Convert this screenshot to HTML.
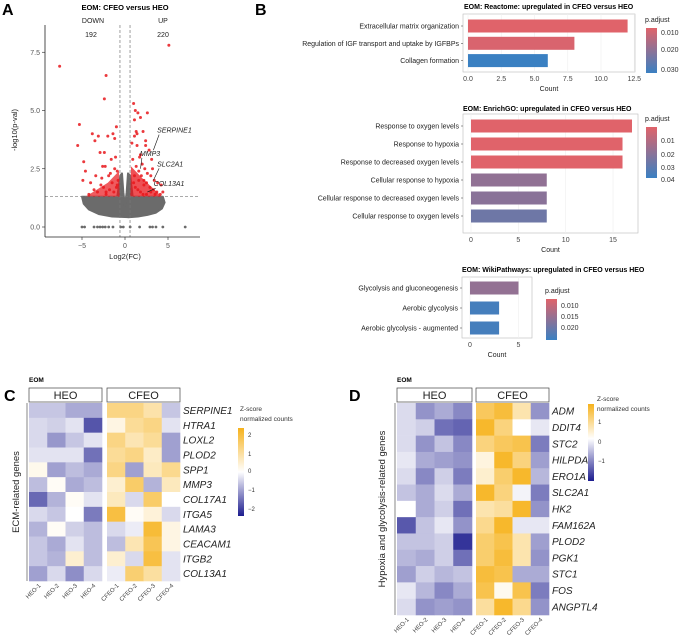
<!DOCTYPE html>
<html><head><meta charset="utf-8">
<style>
html,body{margin:0;padding:0;background:#fff;}
svg{display:block;font-family:"Liberation Sans",Arial,sans-serif;}
</style></head>
<body>
<svg id="fig" width="681" height="636" viewBox="0 0 681 636" xmlns="http://www.w3.org/2000/svg">
<defs>
<linearGradient id="gR" x1="0" y1="0" x2="0" y2="1"><stop offset="0" stop-color="#e0636a"/><stop offset="1" stop-color="#3a80c2"/></linearGradient>
<linearGradient id="gZC" x1="0" y1="0" x2="0" y2="1"><stop offset="0" stop-color="#f6b21c"/><stop offset="0.5" stop-color="#ffffff"/><stop offset="1" stop-color="#1c1c8e"/></linearGradient>
<linearGradient id="gZD" x1="0" y1="0" x2="0" y2="1"><stop offset="0" stop-color="#f6b21c"/><stop offset="0.45" stop-color="#ffffff"/><stop offset="1" stop-color="#1c1c8e"/></linearGradient>
</defs>
<g id="A"></g>
<g id="B"></g>
<g id="C"></g>
<g id="D"></g>
</svg>
<script>
// ---------- DATA ----------
const volcanoRedFC=[-7.6,-5.3,-5.5,-4.8,-4.6,-4.9,-3.8,-3.5,-3.1,-2.9,-2.6,-2.4,-2.2,-2.0,-1.9,-1.6,-1.4,-1.2,-1.1,-0.9,-0.8,-3.6,-3.2,-2.8,-2.5,-2.2,-1.8,-1.5,-1.3,-1.0,-4.2,-4.0,-3.4,-2.7,-2.3,-1.7,-1.2,-0.9,-2.2,-2.4,-1.0,1.0,1.2,1.5,1.8,2.1,2.4,2.8,3.1,1.1,1.4,1.7,2.0,2.3,2.6,3.0,3.4,3.8,4.2,0.9,1.3,1.6,1.9,2.2,2.5,2.9,3.3,3.7,4.1,4.4,1.0,1.2,1.5,1.8,2.1,2.5,3.0,3.5,1.1,1.6,2.2,5.1,1.3,1.8,2.4,0.8,1.1,1.4,2.6,3.2];
const volcanoRedP=[6.9,4.4,3.5,2.8,2.4,2.0,4.0,3.7,3.9,3.2,2.6,5.5,6.5,3.9,2.2,2.9,4.0,3.8,3.0,2.4,2.0,1.6,1.5,1.8,1.7,1.5,1.6,1.9,1.5,1.7,1.4,1.9,2.2,2.1,2.6,2.3,2.5,1.8,1.4,3.2,4.3,5.3,5.0,4.9,4.7,4.1,3.7,3.3,2.9,3.9,3.5,3.0,2.7,2.5,2.3,2.2,2.0,1.9,1.8,2.9,2.6,2.4,2.2,2.0,1.9,1.7,1.6,1.5,1.4,1.5,1.9,1.7,1.6,1.5,1.4,1.4,1.5,1.4,2.2,2.0,1.8,7.8,4.1,3.1,3.5,3.6,4.6,4.0,4.9,2.5];
const volcanoZeroFC=[-5.0,-4.7,-3.6,-3.2,-2.9,-2.6,-2.3,-1.9,-1.4,-0.5,1.7,2.9,3.2,3.6,4.4,7.0,-0.2,0.6];
const grayCloudFC=[-5.0,-4.6,-3.6,-2.6,-1.6,-0.9,-0.55,-0.35,-0.2,0,0.2,0.35,0.6,0.9,1.8,2.8,3.6,4.4,4.6,4.3,3.6,2.6,1.5,0.4,-1.5,-3.0,-4.2,-4.8];
const grayCloudP=[1.3,1.3,1.3,1.3,1.3,1.3,2.2,2.3,1.5,0.9,1.5,2.3,2.2,1.3,1.3,1.3,1.3,1.3,1.05,0.8,0.62,0.52,0.45,0.42,0.45,0.55,0.75,1.0];
const volcanoXTicks=[-5,0,5];
const volcanoYTicks=[0,2.5,5,7.5];
const volcanoYTickLabels=["0.0","2.5","5.0","7.5"];
const geneLabels=["SERPINE1","MMP3","SLC2A1","COL13A1"];
const geneLabelFC=[3.3,1.8,3.3,2.6];
const geneLabelP=[3.3,2.5,2.0,1.5];
const geneLabelTx=[4.2,2.2,4.2,3.8];
const geneLabelTy=[4.05,3.05,2.6,1.75];

const reactTerms=["Extracellular matrix organization","Regulation of IGF transport and uptake by IGFBPs","Collagen formation"];
const reactCounts=[12,8,6];
const reactP=[0.008,0.009,0.031];
const reactTicks=[0,2.5,5,7.5,10,12.5];
const reactTickLabels=["0.0","2.5","5.0","7.5","10.0","12.5"];
const goTerms=["Response to oxygen levels","Response to hypoxia","Response to decreased oxygen levels","Cellular response to hypoxia","Cellular response to decreased oxygen levels","Cellular response to oxygen levels"];
const goCounts=[17,16,16,8,8,8];
const goP=[0.004,0.004,0.004,0.022,0.024,0.030];
const goTicks=[0,5,10,15];
const wikiTerms=["Glycolysis and gluconeogenesis","Aerobic glycolysis","Aerobic glycolysis - augmented"];
const wikiCounts=[5,3,3];
const wikiP=[0.015,0.022,0.022];
const wikiTicks=[0,5];

const sampleLabels=["HEO-1","HEO-2","HEO-3","HEO-4","CFEO-1","CFEO-2","CFEO-3","CFEO-4"];
const ecmGenes=["SERPINE1","HTRA1","LOXL2","PLOD2","SPP1","MMP3","COL17A1","ITGA5","LAMA3","CEACAM1","ITGB2","COL13A1"];
const ecmZ=[
[-0.6,-0.6,-0.9,-0.9,1.3,1.3,0.9,-0.6],
[-0.4,-0.5,-0.3,-1.8,0.3,1.1,1.3,-0.3],
[-0.4,-1.1,-0.6,-0.3,1.3,0.8,1.1,-1.0],
[-0.3,-0.3,-0.3,-1.5,1.1,1.3,0.6,-1.0],
[0.2,-1.0,-0.7,-0.9,1.3,-1.0,0.7,1.2],
[-0.7,0.1,-0.9,-0.7,0.5,1.6,-0.8,0.7],
[-1.6,-0.8,0.1,-0.3,0.7,-0.4,1.6,0.0],
[-0.4,-0.6,0.0,-1.4,2.0,0.1,0.4,-0.4],
[-0.8,0.1,-0.5,-0.7,-0.4,-0.2,2.1,0.3],
[-0.6,-0.9,-0.3,-0.7,-0.7,0.8,1.8,0.3],
[-0.6,-0.8,0.5,-0.7,0.5,-0.4,2.0,-0.3],
[-1.0,-0.4,-1.2,-0.4,-0.2,1.5,1.0,-0.3]];
const hypGenes=["ADM","DDIT4","STC2","HILPDA","ERO1A","SLC2A1","HK2","FAM162A","PLOD2","PGK1","STC1","FOS","ANGPTL4"];
const hypZ=[
[-0.3,-0.9,-0.7,-1.0,1.0,1.2,0.5,-0.9],
[-0.3,-0.4,-1.2,-1.3,1.3,0.8,0.0,-0.2],
[-0.3,-0.9,-0.5,-1.0,0.8,1.0,1.1,-1.1],
[-0.2,-0.7,-0.8,-0.9,0.2,1.3,0.8,-0.8],
[-0.3,-1.0,-0.4,-1.1,0.3,0.9,1.3,-0.6],
[-0.5,-0.7,-0.3,-0.7,1.3,0.8,-0.1,-1.1],
[0.0,-0.7,-0.4,-1.2,0.5,0.6,1.3,-0.9],
[-1.4,-0.5,-0.2,-0.9,0.7,1.3,-0.2,-0.2],
[-0.5,-0.5,-0.4,-1.7,0.9,1.1,0.5,-0.8],
[-0.6,-0.7,-0.4,-1.2,0.9,1.2,0.5,-0.9],
[-0.8,-0.4,-0.6,-0.5,1.2,1.1,-0.7,-0.7],
[-0.2,-0.6,-1.0,-0.7,1.1,0.1,1.1,-1.1],
[-0.3,-0.9,-0.8,-0.9,0.6,1.3,0.7,-0.9]];

// ---------- HELPERS ----------
const NS="http://www.w3.org/2000/svg";
function mk(parent,tag,attrs,text){const e=document.createElementNS(NS,tag);for(const k in attrs)e.setAttribute(k,attrs[k]);if(text!==undefined)e.textContent=text;parent.appendChild(e);return e;}
function T(parent,x,y,s,size,opt){opt=opt||{};const e=mk(parent,"text",{x:x,y:y,"font-size":size,fill:opt.fill||"#222","text-anchor":opt.anchor||"start"},s);if(opt.bold)e.setAttribute("font-weight","bold");if(opt.italic)e.setAttribute("font-style","italic");if(opt.rot)e.setAttribute("transform","rotate("+opt.rot+" "+x+" "+y+")");return e;}

// ---------- PANEL A ----------
(function(){
const g=document.getElementById("A");
const xs=v=>125+v*8.6, ys=v=>227-v*23.3;
let t=T(g,2,15,"A",16,{bold:true,fill:"#000"});


t=T(g,125,10,"EOM: CFEO versus HEO",7.5,{bold:true,anchor:"middle",fill:"#000"});


T(g,93,23,"DOWN",7,{anchor:"middle"});T(g,91,37,"192",7,{anchor:"middle"});
T(g,163,23,"UP",7,{anchor:"middle"});T(g,163,37,"220",7,{anchor:"middle"});
let d="";grayCloudFC.forEach((v,i)=>{d+=(i?"L":"M")+xs(v).toFixed(1)+","+ys(grayCloudP[i]).toFixed(1);});
let p=mk(g,"path",{d:d+"Z",fill:"#6b6b6b","stroke":"#6b6b6b","stroke-width":2,"stroke-linejoin":"round"});


volcanoZeroFC.forEach(v=>{mk(g,"circle",{cx:xs(v),cy:ys(0),r:1.4,fill:"#6b6b6b"});});
mk(g,"path",{d:`M${xs(0.6)},${ys(1.3)}L${xs(0.7)},${ys(2.6)}L${xs(2)},${ys(2.1)}L${xs(4.3)},${ys(1.3)}Z`,fill:"#e8161b","fill-opacity":0.75});
mk(g,"path",{d:`M${xs(-0.6)},${ys(1.3)}L${xs(-0.7)},${ys(2.4)}L${xs(-2)},${ys(1.9)}L${xs(-4.6)},${ys(1.3)}Z`,fill:"#e8161b","fill-opacity":0.7});
volcanoRedFC.forEach((v,i)=>{const c=mk(g,"circle",{cx:xs(v),cy:ys(volcanoRedP[i]),r:1.5,fill:"#e8161b","fill-opacity":0.85});

});
mk(g,"line",{x1:45,x2:200,y1:ys(1.3),y2:ys(1.3),stroke:"#777","stroke-dasharray":"3,2","stroke-width":0.7});
[-0.585,0.585].forEach(v=>mk(g,"line",{x1:xs(v),x2:xs(v),y1:25,y2:237,stroke:"#777","stroke-dasharray":"3,2","stroke-width":0.7}));
geneLabels.forEach((s,i)=>{mk(g,"line",{x1:xs(geneLabelFC[i]),y1:ys(geneLabelP[i]),x2:xs(geneLabelTx[i])-2,y2:ys(geneLabelTy[i])+2,stroke:"#111","stroke-width":0.6});
const e=T(g,xs(geneLabelTx[i])-4,ys(geneLabelTy[i]),s,7,{italic:true});

});
mk(g,"line",{x1:45,x2:45,y1:25,y2:237,stroke:"#222","stroke-width":0.8});
mk(g,"line",{x1:45,x2:200,y1:237,y2:237,stroke:"#222","stroke-width":0.8});
volcanoXTicks.forEach(v=>{mk(g,"line",{x1:xs(v),x2:xs(v),y1:237,y2:240,stroke:"#222","stroke-width":0.6});T(g,xs(v),248,v<0?"−"+(-v):String(v),7,{anchor:"middle",fill:"#555"});});
volcanoYTicks.forEach((v,i)=>{mk(g,"line",{x1:42,x2:45,y1:ys(v),y2:ys(v),stroke:"#222","stroke-width":0.6});T(g,40,ys(v)+2.5,volcanoYTickLabels[i],7,{anchor:"end",fill:"#555"});});
t=T(g,125,259,"Log2(FC)",7.5,{anchor:"middle"});


t=T(g,17,130,"-log10(p-val)",7.5,{anchor:"middle",rot:-90});


})();

// ---------- PANEL B ----------
function pcol(p,lo,hi){let f=(p-lo)/(hi-lo);f=Math.max(0,Math.min(1,f));const a=[224,99,106],b=[58,128,194];return "rgb("+a.map((v,i)=>Math.round(v+(b[i]-v)*f)).join(",")+")";}
function barChart(g,o){
  mk(g,"rect",{x:o.fx0,y:o.fy0,width:o.fx1-o.fx0,height:o.fy1-o.fy0,fill:"#fff",stroke:"#bbb","stroke-width":0.6});
  const xs=v=>o.x0+v*o.k;
  o.ticks.forEach(v=>{mk(g,"line",{x1:xs(v),x2:xs(v),y1:o.fy0,y2:o.fy1,stroke:"#eee","stroke-width":0.6});});
  o.terms.forEach((s,i)=>{const y=o.y0+i*o.dy;
    const r=mk(g,"rect",{x:xs(0),y:y-o.bh/2,width:o.counts[i]*o.k,height:o.bh,fill:pcol(o.p[i],o.lo,o.hi)});
    
    
    T(g,o.fx0-4,y+2.5,s,7,{anchor:"end"});
    mk(g,"line",{x1:o.fx0-2,x2:o.fx0,y1:y,y2:y,stroke:"#333","stroke-width":0.5});});
  o.ticks.forEach((v,i)=>{T(g,xs(v),o.fy1+9,o.tl?o.tl[i]:String(v),7,{anchor:"middle",fill:"#444"});});
  T(g,(o.fx0+o.fx1)/2,o.fy1+19,"Count",7,{anchor:"middle"});
  const t=T(g,o.tx,o.ty,o.title,7,{bold:true,fill:"#000"});
  
  
  T(g,o.lx,o.ly,"p.adjust",7);
  mk(g,"rect",{x:o.lx+1,y:o.ly+6,width:11,height:o.lh,fill:"url(#gR)"});
  o.leg.forEach((s,i)=>T(g,o.lx+16,o.legY[i],s,7,{fill:"#333"}));
}
(function(){
const g=document.getElementById("B");
let t=T(g,255,15,"B",16,{bold:true,fill:"#000"});


barChart(g,{fx0:463,fx1:635,fy0:14,fy1:72,x0:468,k:13.3,y0:26,dy:17.3,bh:13,terms:reactTerms,counts:reactCounts,p:reactP,lo:0.008,hi:0.031,ticks:reactTicks,tl:reactTickLabels,title:"EOM: Reactome: upregulated in CFEO versus HEO",tx:464,ty:9,lx:645,ly:22,lh:45,leg:["0.010","0.020","0.030"],legY:[35,52,72]});
barChart(g,{fx0:463,fx1:638,fy0:114,fy1:233,x0:471,k:9.47,y0:126,dy:18,bh:13,terms:goTerms,counts:goCounts,p:goP,lo:0.004,hi:0.042,ticks:goTicks,title:"EOM: EnrichGO: upregulated in CFEO versus HEO",tx:463,ty:111,lx:645,ly:121,lh:51,leg:["0.01","0.02","0.03","0.04"],legY:[143,157,170,182]});
barChart(g,{fx0:462,fx1:532,fy0:277,fy1:338,x0:470,k:9.7,y0:288,dy:20,bh:13,terms:wikiTerms,counts:wikiCounts,p:wikiP,lo:0.008,hi:0.023,ticks:wikiTicks,title:"EOM: WikiPathways: upregulated in CFEO versus HEO",tx:462,ty:272,lx:545,ly:293,lh:41,leg:["0.010","0.015","0.020"],legY:[308,319,330]});
})();

// ---------- HEATMAPS ----------
function zcol(z,neg,pos){const o=[246,178,28],w=[255,255,255],n=[28,28,142];let f,a,b;if(z>=0){f=Math.min(1,z/pos);a=w;b=o;}else{f=Math.min(1,-z/neg);a=w;b=n;}return "rgb("+a.map((v,i)=>Math.round(v+(b[i]-v)*f)).join(",")+")";}
function heat(g,o){
  T(g,o.lab[0],o.lab[1],o.label,16,{bold:true,fill:"#000"});
  T(g,o.hx0,382,"EOM",6.5,{bold:true,fill:"#000"});
  [["HEO",o.hx0,o.hx1],["CFEO",o.cx0,o.cx1]].forEach(s=>{const r=mk(g,"rect",{x:s[1],y:388,width:s[2]-s[1],height:14,fill:"#fff",stroke:"#444","stroke-width":0.7});
    
    
    T(g,(s[1]+s[2])/2,399,s[0],11,{anchor:"middle"});});
  const n=o.genes.length,rh=(o.y1-o.y0)/n;
  o.z.forEach((row,i)=>row.forEach((v,j)=>{const x0=j<4?o.hx0+j*(o.hx1-o.hx0)/4:o.cx0+(j-4)*(o.cx1-o.cx0)/4;const w=j<4?(o.hx1-o.hx0)/4:(o.cx1-o.cx0)/4;
    const c=mk(g,"rect",{x:x0,y:o.y0+i*rh,width:w+0.3,height:rh+0.3,fill:zcol(v,o.neg,o.pos)});
    
    }));
  o.genes.forEach((s,i)=>{const e=T(g,o.cx1+3,o.y0+(i+0.5)*rh+3.5,s,10,{italic:true});
    
    });
  sampleLabels.forEach((s,j)=>{const x=(j<4?o.hx0+(j+0.5)*(o.hx1-o.hx0)/4:o.cx0+(j-3.5)*(o.cx1-o.cx0)/4)+3;T(g,x,o.y1+5,s,6,{anchor:"end",rot:-45,fill:"#444"});});
  mk(g,"line",{x1:o.hx0-2,x2:o.hx0-2,y1:o.y0,y2:o.y1,stroke:"#555","stroke-width":0.7});
  const yl=T(g,o.ylx,(o.y0+o.y1)/2,o.ylab,9.5,{anchor:"middle",rot:-90});
  
  
  T(g,o.lgx+o.tdx,o.lgy,"Z-score",6.5,{fill:"#333"});T(g,o.lgx+o.tdx,o.lgy+10,"normalized counts",6.5,{fill:"#333"});
  mk(g,"rect",{x:o.lgx,y:o.cb0,width:6,height:o.cb1-o.cb0,fill:o.grad});
  o.ct.forEach((s,i)=>T(g,o.lgx+10,o.ctY[i],s,6,{fill:"#333"}));
}
heat(document.getElementById("C"),{label:"C",lab:[4,401],hx0:29,hx1:102,cx0:107,cx1:180,y0:403,y1:581,genes:ecmGenes,z:ecmZ,neg:2.4,pos:2.4,ylab:"ECM-related genes",ylx:19,lgx:238,tdx:2,lgy:411,cb0:428,cb1:516,grad:"url(#gZC)",ct:["2","1","0","−1","−2"],ctY:[437,456,473,492,511]});
heat(document.getElementById("D"),{label:"D",lab:[349,401],hx0:397,hx1:472,cx0:476,cx1:549,y0:403,y1:615,genes:hypGenes,z:hypZ,neg:1.9,pos:1.4,ylab:"Hypoxia and glycolysis-related genes",ylx:385,lgx:588,tdx:9,lgy:401,cb0:404,cb1:481,grad:"url(#gZD)",ct:["1","0","−1"],ctY:[424,444,463]});
</script>
</body></html>
